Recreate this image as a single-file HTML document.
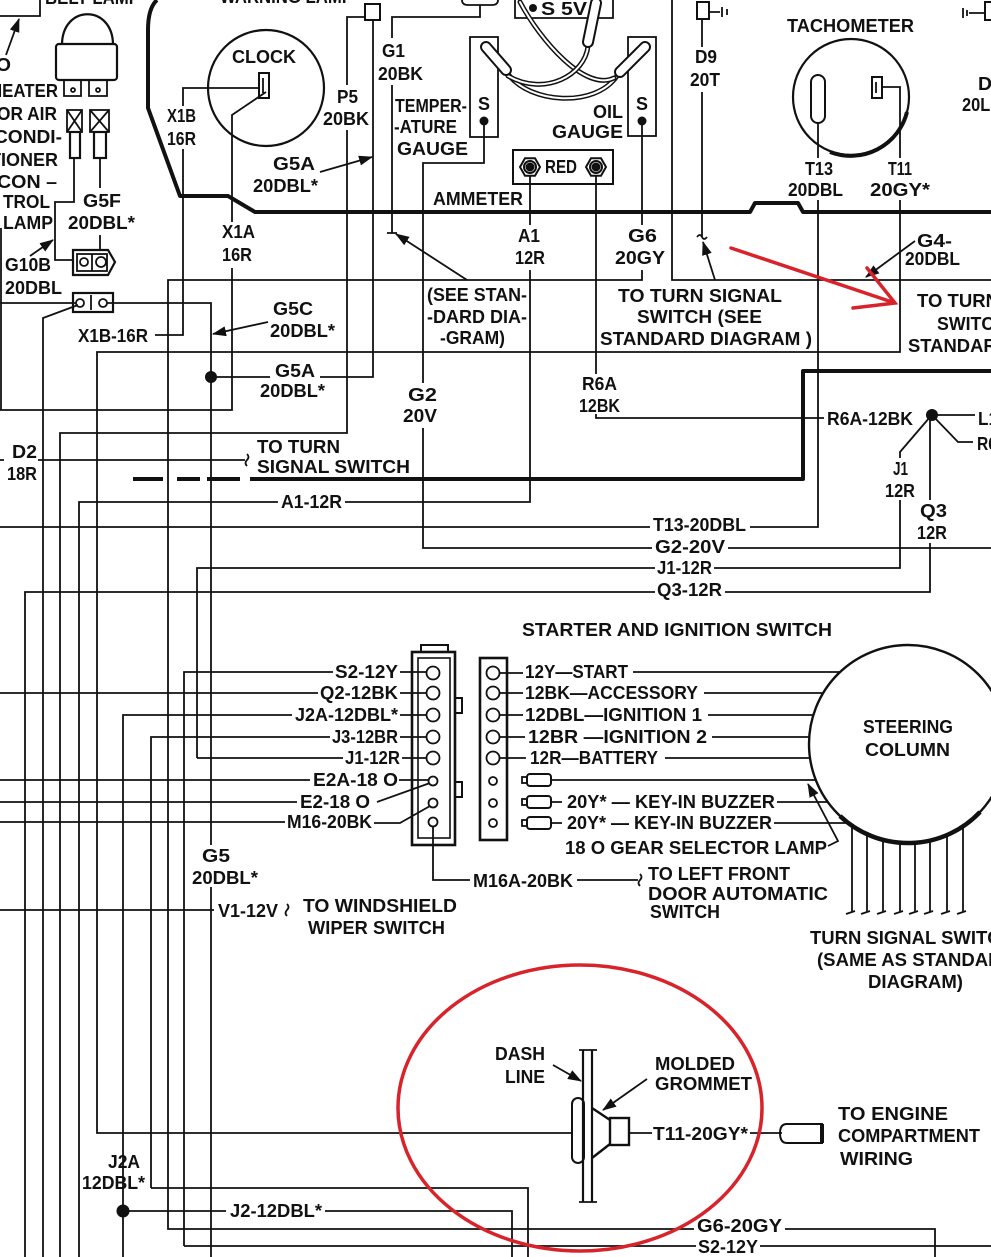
<!DOCTYPE html>
<html><head><meta charset="utf-8"><style>
html,body{margin:0;padding:0;background:#fff;}
svg{display:block;}
text{font-family:"Liberation Sans",sans-serif;font-weight:bold;font-size:18px;fill:#111;}
</style></head><body>
<svg width="991" height="1257" viewBox="0 0 991 1257" xmlns="http://www.w3.org/2000/svg">
<defs>
<marker id="a" markerUnits="userSpaceOnUse" markerWidth="14" markerHeight="10" refX="13" refY="5" orient="auto"><path d="M0 0 L14 5 L0 10 Z" fill="#111"/></marker>
</defs>
<rect width="991" height="1257" fill="#fff"/>

<!-- thick harness lines -->
<g fill="none" stroke="#111" stroke-width="4" stroke-linejoin="round">
<path d="M157 0 Q148 8 148 30 V108 L180 196 H228 L255 212 H750 L755 203 H798 L803 212 H991"/>
<path d="M250 479 H803 V371 H991"/>
<path d="M133 479 H163 M177 479 H200 M207 479 H240"/>
</g>

<!-- wires -->
<g fill="none" stroke="#111" stroke-width="1.8">
<!-- top left -->
<path d="M0 16 H40 V0"/>
<path d="M6 55 L19 19" marker-end="url(#a)"/>
<path d="M62 45 C62 4 113 4 113 45" stroke-width="2.2"/>
<rect x="56" y="44" width="61" height="36" rx="3" stroke-width="2.2"/>
<path d="M64 80 V96 H81 V80 M89 80 V96 H107 V80"/>
<circle cx="73" cy="90" r="2"/><circle cx="98" cy="90" r="2"/>
<rect x="67" y="110" width="15" height="22"/><path d="M67 110 L82 132 M82 110 L67 132"/>
<rect x="70" y="132" width="10" height="26" stroke-width="2.2"/>
<rect x="90" y="110" width="19" height="22"/><path d="M90 110 L109 132 M109 110 L90 132"/>
<rect x="94" y="132" width="12" height="26" stroke-width="2.2"/>
<path d="M74 158 V202 H55 V260 H73"/>
<path d="M100 158 V188 M100 235 V250"/>
<path d="M73 250 H108 L115 262 L108 275 H73 Z" stroke-width="2.2"/>
<rect x="77" y="254" width="30" height="17"/>
<circle cx="84" cy="262" r="4"/><circle cx="101" cy="262" r="5"/><path d="M92 254 V271"/>
<path d="M30 256 L53 240" marker-end="url(#a)"/>
<rect x="73" y="293" width="40" height="19" stroke-width="2.2"/>
<circle cx="80" cy="303" r="4"/><circle cx="103" cy="303" r="4"/><path d="M91 295 V310"/>
<path d="M0 303 H76"/>
<path d="M107 303 H211 V845 M211 887 V1257"/>
<path d="M78 305 L43 318 V1257"/>
<path d="M1 228 V410"/>

<!-- clock -->
<circle cx="266" cy="88" r="58" stroke-width="2.2"/>
<rect x="259" y="73" width="10" height="25" stroke-width="2"/>
<path d="M263 78 V93"/>
<path d="M259 88 H183 V106 M183 149 V335 H155"/>
<path d="M266 92 L232 115 V222 M232 268 V410 H0"/>

<!-- P5 / G5A connector -->
<rect x="365" y="4" width="15" height="16" stroke-width="2"/>
<path d="M365 17 H347 V85 M347 130 V433 H60 V1257"/>
<path d="M373 20 V377 H320 M270 377 H211"/>
<path d="M320 172 L372 157" marker-end="url(#a)"/>
<path d="M268 322 L213 334" marker-end="url(#a)"/>

<!-- G1 -->
<path d="M462 0 Q462 5 468 5 H492 Q498 5 498 0"/>
<path d="M480 5 V17 H392 V38 M392 85 V233 M387 233 H397"/>
<path d="M467 280 L396 234" marker-end="url(#a)"/>

<!-- gauges -->
<rect x="470" y="37" width="28" height="100"/>
<rect x="628" y="37" width="28" height="99"/>
<path d="M515 0 V18 H613 V0"/>
<path d="M484 121 V163 H423 V383 M423 428 V548 H652 M728 548 H991"/>
<path d="M642 121 V225 M642 270 V280 H168 V1229 H694 M785 1229 H935 V1257"/>

<!-- ammeter -->
<rect x="513" y="150" width="100" height="34" stroke-width="2"/>
<path d="M530 176 V225 M530 270 V502 H345 M278 502 H79 V1257"/>
<path d="M596 176 V374 M596 414 V418 H824"/>

<!-- D9 -->
<rect x="697" y="2" width="12" height="17" stroke-width="2"/>
<path d="M709 12 H720 M722 7 V17 M727 9 V15"/>
<path d="M702 19 V47 M702 92 V237 M697 237 q3 -4 5 0 q2 4 5 0"/>
<path d="M715 280 L703 242" marker-end="url(#a)"/>
<path d="M672 0 V280 H991"/>

<!-- top right connector -->
<path d="M963 8 V18 M967 10 V16 M969 13 H985"/>
<rect x="985" y="2" width="10" height="18" stroke-width="2"/>

<!-- tachometer -->
<circle cx="851" cy="97" r="58" stroke-width="2.2"/>
<path d="M830 152 A58 58 0 0 0 907 112" stroke-width="4"/>
<rect x="811" y="75" width="14" height="48" rx="7" stroke-width="2"/>
<rect x="872" y="77" width="10" height="21" stroke-width="2"/>
<path d="M876 82 V93"/>
<path d="M882 87 H900 V158 M900 200 V352 H97 V1133 H572"/>
<path d="M818 123 V158 M818 200 V527 H750 M650 527 H0"/>
<path d="M915 241 L866 277" marker-end="url(#a)"/>

<!-- D2 -->
<path d="M0 460 H4 M38 460 H245"/>
<path d="M247 454 q3 3 0 6 q-3 3 0 6"/>

<!-- J1 / Q3 -->
<path d="M197 758 V568 H655 M714 568 H900 V500 M900 458 V452 L930 417"/>
<path d="M25 1257 V592 H655 M725 592 H930 V543 M930 500 V415"/>
<path d="M932 415 H975 M932 415 L958 442 H973"/>

<!-- switch left wires -->
<path d="M184 1246 V672 H333 M400 672 H427"/>
<path d="M0 693 H318 M400 693 H427"/>
<path d="M123 1257 V715 H292 M400 715 H427"/>
<path d="M151 1188 V737 H330 M400 737 H427"/>
<path d="M343 758 H197 M402 758 H427"/>
<path d="M0 780 H310 M399 780 H429"/>
<path d="M0 802 H297 M377 802 L430 783"/>
<path d="M0 822 H285 M374 823 H400 L430 806"/>
<path d="M433 826 V880 H470 M577 880 H638"/>
<path d="M640 874 q3 3 0 6 q-3 3 0 6"/>

<!-- connector 1 -->
<rect x="412" y="652" width="43" height="193" stroke-width="2.6"/>
<rect x="418" y="658" width="32" height="180" stroke-width="1.6"/>
<path d="M421 652 V645 H448 V652" stroke-width="2"/>
<rect x="455" y="698" width="7" height="15" stroke-width="2"/>
<rect x="455" y="782" width="7" height="15" stroke-width="2"/>
<g fill="#fff">
<circle cx="433" cy="673" r="6.5"/><circle cx="433" cy="693" r="6.5"/><circle cx="433" cy="715" r="6.5"/><circle cx="433" cy="737" r="6.5"/><circle cx="433" cy="758" r="6.5"/>
<circle cx="433" cy="781" r="4.5"/><circle cx="433" cy="803" r="4.5"/><circle cx="433" cy="822" r="4.5"/>
</g>

<!-- connector 2 -->
<rect x="480" y="658" width="27" height="182" stroke-width="2.6"/>
<g fill="#fff">
<circle cx="493" cy="673" r="6.5"/><circle cx="493" cy="693" r="6.5"/><circle cx="493" cy="715" r="6.5"/><circle cx="493" cy="737" r="6.5"/><circle cx="493" cy="758" r="6.5"/>
<circle cx="493" cy="781" r="4"/><circle cx="493" cy="803" r="4"/><circle cx="493" cy="823" r="4"/>
</g>
<path d="M499 673 H523 M499 693 H523 M499 715 H523 M499 737 H525 M499 758 H526"/>
<path d="M633 672 H840 M704 693 H823 M708 715 H813 M712 737 H809 M665 758 H810"/>
<rect x="527" y="774" width="24" height="12" rx="3" stroke-width="2"/><rect x="522" y="777" width="5" height="6"/>
<rect x="527" y="796" width="24" height="12" rx="3" stroke-width="2"/><rect x="522" y="799" width="5" height="6"/>
<rect x="527" y="817" width="24" height="12" rx="3" stroke-width="2"/><rect x="522" y="820" width="5" height="6"/>
<path d="M551 780 H816 M551 802 H562 M777 802 H828 M551 823 H562 M774 823 H848"/>

<!-- steering column -->
<circle cx="908" cy="744" r="99" stroke-width="2.4"/>
<path d="M840 816 A99 99 0 0 0 980 812" stroke-width="4.5"/>
<path d="M852 826 V912 M867 834 V912 M883 840 V912 M900 843 V912 M915 843 V912 M930 840 V912 M947 835 V912 M963 826 V912"/>
<path d="M846 914 L855 911 M861 914 L870 911 M877 914 L886 911 M894 914 L903 911 M909 914 L918 911 M924 914 L933 911 M941 914 L950 911 M957 914 L966 911"/>
<path d="M828 846 L838 841 L808 784" marker-end="url(#a)"/>

<!-- bottom -->
<path d="M0 910 H214"/>
<path d="M287 904 q3 3 0 6 q-3 3 0 6"/>
<path d="M151 1188 H528 V1257"/>
<path d="M123 1211 H226 M325 1211 H512 V1257"/>
<path d="M184 1246 H696 M760 1246 H991"/>

<!-- grommet -->
<path d="M583 1050 V1202 M592 1050 V1202" stroke-width="2.2"/>
<path d="M579 1050 H597 M579 1202 H597"/>
<rect x="572" y="1098" width="12" height="65" rx="6" stroke-width="2"/>
<path d="M592 1108 L610 1120 M592 1158 L610 1144" stroke-width="2.4"/>
<rect x="610" y="1118" width="19" height="27" stroke-width="2.4"/>
<path d="M629 1133 H652 M750 1133 H782"/>
<path d="M787 1124 H822 V1143 H787 Q780 1143 780 1133 Q780 1124 787 1124 Z" stroke-width="2"/>
<path d="M822 1124 V1143" stroke-width="4"/>
<path d="M553 1065 L581 1081" marker-end="url(#a)"/>
<path d="M647 1079 L603 1110" marker-end="url(#a)"/>
</g>

<!-- studs -->
<g stroke="#111" stroke-width="2">
<polygon points="540,167 535,175.7 525,175.7 520,167 525,158.3 535,158.3" fill="#fff"/>
<circle cx="530" cy="167" r="6" fill="#fff"/><circle cx="530" cy="167" r="3.5" fill="#111"/>
<polygon points="606,167 601,175.7 591,175.7 586,167 591,158.3 601,158.3" fill="#fff"/>
<circle cx="596" cy="167" r="6" fill="#fff"/><circle cx="596" cy="167" r="3.5" fill="#111"/>
</g>

<!-- gauge capsules & wires -->
<g fill="none" stroke-linecap="round">
<path d="M508 74 C530 104 595 108 617 76" stroke="#111" stroke-width="5"/>
<path d="M508 74 C530 104 595 108 617 76" stroke="#fff" stroke-width="2"/>
<path d="M520 2 C540 40 585 92 614 78" stroke="#111" stroke-width="5"/>
<path d="M520 2 C540 40 585 92 614 78" stroke="#fff" stroke-width="2"/>
<path d="M588 46 C585 75 545 97 508 76" stroke="#111" stroke-width="5"/>
<path d="M588 46 C585 75 545 97 508 76" stroke="#fff" stroke-width="2"/>
<path d="M486 47 L506 70" stroke="#111" stroke-width="12"/>
<path d="M486 47 L506 70" stroke="#fff" stroke-width="8"/>
<path d="M645 47 L620 72" stroke="#111" stroke-width="12"/>
<path d="M645 47 L620 72" stroke="#fff" stroke-width="8"/>
<path d="M596 3 L588 42" stroke="#111" stroke-width="12"/>
<path d="M596 3 L588 42" stroke="#fff" stroke-width="8"/>
</g>

<!-- dots -->
<g fill="#111">
<circle cx="484" cy="121" r="4.5"/><circle cx="642" cy="121" r="4.5"/><circle cx="533" cy="8" r="4"/>
<circle cx="211" cy="377" r="6"/><circle cx="932" cy="415" r="6"/><circle cx="123" cy="1211" r="6.5"/>
</g>

<!-- red annotations -->
<g fill="none" stroke="#d9232b" stroke-width="3.5" stroke-linecap="round">
<ellipse cx="580" cy="1108" rx="182" ry="143"/>
<path d="M731 248 L895 303 M853 308 L895 303 L867 268"/>
</g>

<!-- labels -->
<g>
<text x="45" y="4" textLength="95" lengthAdjust="spacingAndGlyphs">BELT LAMP</text>
<text x="220" y="3" textLength="133" lengthAdjust="spacingAndGlyphs">WARNING LAMP</text>
<text x="-4" y="71" textLength="15" lengthAdjust="spacingAndGlyphs">O</text>
<text x="-10" y="97" textLength="68" lengthAdjust="spacingAndGlyphs">HEATER</text>
<text x="-3" y="120" textLength="60" lengthAdjust="spacingAndGlyphs">OR AIR</text>
<text x="-6" y="143" textLength="68" lengthAdjust="spacingAndGlyphs">CONDI-</text>
<text x="-10" y="166" textLength="68" lengthAdjust="spacingAndGlyphs">TIONER</text>
<text x="-3" y="188" textLength="60" lengthAdjust="spacingAndGlyphs">CON –</text>
<text x="3" y="208" textLength="47" lengthAdjust="spacingAndGlyphs">TROL</text>
<text x="3" y="229" textLength="50" lengthAdjust="spacingAndGlyphs">LAMP</text>
<text x="83" y="207" textLength="38" lengthAdjust="spacingAndGlyphs">G5F</text>
<text x="68" y="229" textLength="67" lengthAdjust="spacingAndGlyphs">20DBL*</text>
<text x="5" y="271" textLength="46" lengthAdjust="spacingAndGlyphs">G10B</text>
<text x="5" y="294" textLength="57" lengthAdjust="spacingAndGlyphs">20DBL</text>
<text x="232" y="63" textLength="64" lengthAdjust="spacingAndGlyphs">CLOCK</text>
<text x="167" y="122" textLength="29" lengthAdjust="spacingAndGlyphs">X1B</text>
<text x="167" y="145" textLength="29" lengthAdjust="spacingAndGlyphs">16R</text>
<text x="337" y="103" textLength="21" lengthAdjust="spacingAndGlyphs">P5</text>
<text x="323" y="125" textLength="46" lengthAdjust="spacingAndGlyphs">20BK</text>
<text x="382" y="57" textLength="23" lengthAdjust="spacingAndGlyphs">G1</text>
<text x="378" y="80" textLength="45" lengthAdjust="spacingAndGlyphs">20BK</text>
<text x="395" y="112" textLength="72" lengthAdjust="spacingAndGlyphs">TEMPER-</text>
<text x="394" y="133" textLength="63" lengthAdjust="spacingAndGlyphs">-ATURE</text>
<text x="397" y="155" textLength="71" lengthAdjust="spacingAndGlyphs">GAUGE</text>
<text x="478" y="110" textLength="12" lengthAdjust="spacingAndGlyphs">S</text>
<text x="636" y="110" textLength="12" lengthAdjust="spacingAndGlyphs">S</text>
<text x="593" y="118" textLength="30" lengthAdjust="spacingAndGlyphs">OIL</text>
<text x="552" y="138" textLength="71" lengthAdjust="spacingAndGlyphs">GAUGE</text>
<text x="545" y="173" textLength="32" lengthAdjust="spacingAndGlyphs">RED</text>
<text x="541" y="15" textLength="46" lengthAdjust="spacingAndGlyphs">S 5V</text>
<text x="433" y="205" textLength="90" lengthAdjust="spacingAndGlyphs">AMMETER</text>
<text x="273" y="170" textLength="42" lengthAdjust="spacingAndGlyphs">G5A</text>
<text x="253" y="192" textLength="65" lengthAdjust="spacingAndGlyphs">20DBL*</text>
<text x="222" y="238" textLength="33" lengthAdjust="spacingAndGlyphs">X1A</text>
<text x="222" y="261" textLength="30" lengthAdjust="spacingAndGlyphs">16R</text>
<text x="273" y="315" textLength="40" lengthAdjust="spacingAndGlyphs">G5C</text>
<text x="270" y="337" textLength="65" lengthAdjust="spacingAndGlyphs">20DBL*</text>
<text x="78" y="342" textLength="70" lengthAdjust="spacingAndGlyphs">X1B-16R</text>
<text x="275" y="377" textLength="40" lengthAdjust="spacingAndGlyphs">G5A</text>
<text x="260" y="397" textLength="65" lengthAdjust="spacingAndGlyphs">20DBL*</text>
<text x="427" y="301" textLength="100" lengthAdjust="spacingAndGlyphs">(SEE STAN-</text>
<text x="427" y="323" textLength="100" lengthAdjust="spacingAndGlyphs">-DARD DIA-</text>
<text x="440" y="344" textLength="65" lengthAdjust="spacingAndGlyphs">-GRAM)</text>
<text x="408" y="401" textLength="29" lengthAdjust="spacingAndGlyphs">G2</text>
<text x="403" y="422" textLength="34" lengthAdjust="spacingAndGlyphs">20V</text>
<text x="695" y="63" textLength="22" lengthAdjust="spacingAndGlyphs">D9</text>
<text x="690" y="86" textLength="30" lengthAdjust="spacingAndGlyphs">20T</text>
<text x="787" y="32" textLength="127" lengthAdjust="spacingAndGlyphs">TACHOMETER</text>
<text x="805" y="175" textLength="28" lengthAdjust="spacingAndGlyphs">T13</text>
<text x="788" y="196" textLength="55" lengthAdjust="spacingAndGlyphs">20DBL</text>
<text x="888" y="175" textLength="24" lengthAdjust="spacingAndGlyphs">T11</text>
<text x="870" y="196" textLength="60" lengthAdjust="spacingAndGlyphs">20GY*</text>
<text x="518" y="242" textLength="22" lengthAdjust="spacingAndGlyphs">A1</text>
<text x="515" y="264" textLength="30" lengthAdjust="spacingAndGlyphs">12R</text>
<text x="628" y="242" textLength="29" lengthAdjust="spacingAndGlyphs">G6</text>
<text x="615" y="264" textLength="50" lengthAdjust="spacingAndGlyphs">20GY</text>
<text x="618" y="302" textLength="164" lengthAdjust="spacingAndGlyphs">TO TURN SIGNAL</text>
<text x="637" y="323" textLength="125" lengthAdjust="spacingAndGlyphs">SWITCH  (SEE</text>
<text x="600" y="345" textLength="212" lengthAdjust="spacingAndGlyphs">STANDARD DIAGRAM )</text>
<text x="582" y="390" textLength="35" lengthAdjust="spacingAndGlyphs">R6A</text>
<text x="579" y="412" textLength="41" lengthAdjust="spacingAndGlyphs">12BK</text>
<text x="917" y="247" textLength="35" lengthAdjust="spacingAndGlyphs">G4-</text>
<text x="905" y="265" textLength="55" lengthAdjust="spacingAndGlyphs">20DBL</text>
<text x="917" y="307" textLength="82" lengthAdjust="spacingAndGlyphs">TO TURN</text>
<text x="937" y="330" textLength="70" lengthAdjust="spacingAndGlyphs">SWITCH</text>
<text x="908" y="352" textLength="102" lengthAdjust="spacingAndGlyphs">STANDARD</text>
<text x="978" y="90" textLength="14" lengthAdjust="spacingAndGlyphs">D</text>
<text x="962" y="111" textLength="50" lengthAdjust="spacingAndGlyphs">20LBL</text>
<text x="12" y="458" textLength="25" lengthAdjust="spacingAndGlyphs">D2</text>
<text x="7" y="480" textLength="30" lengthAdjust="spacingAndGlyphs">18R</text>
<text x="257" y="453" textLength="83" lengthAdjust="spacingAndGlyphs">TO TURN</text>
<text x="257" y="473" textLength="153" lengthAdjust="spacingAndGlyphs">SIGNAL SWITCH</text>
<text x="281" y="508" textLength="61" lengthAdjust="spacingAndGlyphs">A1-12R</text>
<text x="827" y="425" textLength="86" lengthAdjust="spacingAndGlyphs">R6A-12BK</text>
<text x="978" y="425" textLength="20" lengthAdjust="spacingAndGlyphs">L1</text>
<text x="977" y="450" textLength="20" lengthAdjust="spacingAndGlyphs">R6</text>
<text x="893" y="475" textLength="15" lengthAdjust="spacingAndGlyphs">J1</text>
<text x="885" y="497" textLength="30" lengthAdjust="spacingAndGlyphs">12R</text>
<text x="920" y="517" textLength="27" lengthAdjust="spacingAndGlyphs">Q3</text>
<text x="917" y="539" textLength="30" lengthAdjust="spacingAndGlyphs">12R</text>
<text x="653" y="531" textLength="93" lengthAdjust="spacingAndGlyphs">T13-20DBL</text>
<text x="655" y="553" textLength="70" lengthAdjust="spacingAndGlyphs">G2-20V</text>
<text x="657" y="574" textLength="55" lengthAdjust="spacingAndGlyphs">J1-12R</text>
<text x="657" y="596" textLength="65" lengthAdjust="spacingAndGlyphs">Q3-12R</text>
<text x="522" y="636" textLength="310" lengthAdjust="spacingAndGlyphs">STARTER AND IGNITION SWITCH</text>
<text x="335" y="678" textLength="63" lengthAdjust="spacingAndGlyphs">S2-12Y</text>
<text x="320" y="699" textLength="78" lengthAdjust="spacingAndGlyphs">Q2-12BK</text>
<text x="295" y="721" textLength="103" lengthAdjust="spacingAndGlyphs">J2A-12DBL*</text>
<text x="332" y="743" textLength="66" lengthAdjust="spacingAndGlyphs">J3-12BR</text>
<text x="345" y="764" textLength="55" lengthAdjust="spacingAndGlyphs">J1-12R</text>
<text x="313" y="786" textLength="85" lengthAdjust="spacingAndGlyphs">E2A-18 O</text>
<text x="300" y="808" textLength="70" lengthAdjust="spacingAndGlyphs">E2-18 O</text>
<text x="287" y="828" textLength="85" lengthAdjust="spacingAndGlyphs">M16-20BK</text>
<text x="525" y="678" textLength="103" lengthAdjust="spacingAndGlyphs">12Y—START</text>
<text x="525" y="699" textLength="173" lengthAdjust="spacingAndGlyphs">12BK—ACCESSORY</text>
<text x="525" y="721" textLength="177" lengthAdjust="spacingAndGlyphs">12DBL—IGNITION 1</text>
<text x="528" y="743" textLength="179" lengthAdjust="spacingAndGlyphs">12BR —IGNITION 2</text>
<text x="530" y="764" textLength="128" lengthAdjust="spacingAndGlyphs">12R—BATTERY</text>
<text x="567" y="808" textLength="208" lengthAdjust="spacingAndGlyphs">20Y* — KEY-IN BUZZER</text>
<text x="567" y="829" textLength="205" lengthAdjust="spacingAndGlyphs">20Y* — KEY-IN BUZZER</text>
<text x="565" y="854" textLength="262" lengthAdjust="spacingAndGlyphs">18 O GEAR SELECTOR LAMP</text>
<text x="863" y="733" textLength="90" lengthAdjust="spacingAndGlyphs">STEERING</text>
<text x="865" y="756" textLength="85" lengthAdjust="spacingAndGlyphs">COLUMN</text>
<text x="473" y="887" textLength="100" lengthAdjust="spacingAndGlyphs">M16A-20BK</text>
<text x="648" y="880" textLength="142" lengthAdjust="spacingAndGlyphs">TO LEFT FRONT</text>
<text x="648" y="900" textLength="180" lengthAdjust="spacingAndGlyphs">DOOR AUTOMATIC</text>
<text x="650" y="918" textLength="70" lengthAdjust="spacingAndGlyphs">SWITCH</text>
<text x="810" y="944" textLength="204" lengthAdjust="spacingAndGlyphs">TURN SIGNAL SWITCH</text>
<text x="817" y="966" textLength="198" lengthAdjust="spacingAndGlyphs">(SAME AS STANDARD</text>
<text x="868" y="988" textLength="95" lengthAdjust="spacingAndGlyphs">DIAGRAM)</text>
<text x="202" y="862" textLength="28" lengthAdjust="spacingAndGlyphs">G5</text>
<text x="192" y="884" textLength="66" lengthAdjust="spacingAndGlyphs">20DBL*</text>
<text x="218" y="917" textLength="60" lengthAdjust="spacingAndGlyphs">V1-12V</text>
<text x="303" y="912" textLength="154" lengthAdjust="spacingAndGlyphs">TO WINDSHIELD</text>
<text x="308" y="934" textLength="137" lengthAdjust="spacingAndGlyphs">WIPER SWITCH</text>
<text x="108" y="1168" textLength="32" lengthAdjust="spacingAndGlyphs">J2A</text>
<text x="82" y="1189" textLength="63" lengthAdjust="spacingAndGlyphs">12DBL*</text>
<text x="230" y="1217" textLength="92" lengthAdjust="spacingAndGlyphs">J2-12DBL*</text>
<text x="495" y="1060" textLength="50" lengthAdjust="spacingAndGlyphs">DASH</text>
<text x="505" y="1083" textLength="40" lengthAdjust="spacingAndGlyphs">LINE</text>
<text x="655" y="1070" textLength="80" lengthAdjust="spacingAndGlyphs">MOLDED</text>
<text x="655" y="1090" textLength="97" lengthAdjust="spacingAndGlyphs">GROMMET</text>
<text x="653" y="1140" textLength="95" lengthAdjust="spacingAndGlyphs">T11-20GY*</text>
<text x="838" y="1120" textLength="110" lengthAdjust="spacingAndGlyphs">TO ENGINE</text>
<text x="838" y="1142" textLength="142" lengthAdjust="spacingAndGlyphs">COMPARTMENT</text>
<text x="840" y="1165" textLength="73" lengthAdjust="spacingAndGlyphs">WIRING</text>
<text x="697" y="1232" textLength="85" lengthAdjust="spacingAndGlyphs">G6-20GY</text>
<text x="698" y="1253" textLength="60" lengthAdjust="spacingAndGlyphs">S2-12Y</text>
</g>
</svg>
</body></html>
